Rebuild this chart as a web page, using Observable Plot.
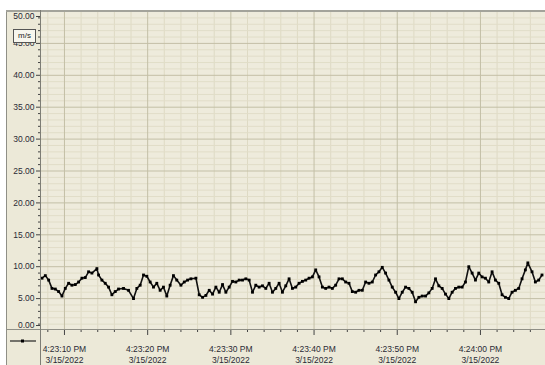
<!DOCTYPE html>
<html><head><meta charset="utf-8">
<script src="https://cdn.jsdelivr.net/npm/d3@7"></script>
<script src="https://cdn.jsdelivr.net/npm/@observablehq/plot@0.6"></script>
<style>
body{margin:0;background:#fff;}
#wrap{position:relative;width:545px;height:365px;overflow:hidden;background:#fff;font-family:"Liberation Sans",Arial,sans-serif;}
#chart{position:absolute;left:0;top:10px;}
.ln{position:absolute;background:#8f8f86;}
#unit{position:absolute;left:13px;top:29px;width:21px;height:12px;border:1px solid #555;background:#f7f6ee;font-size:8px;line-height:12px;text-align:center;color:#222;}
#leg{position:absolute;left:10px;top:332px;}
#white{position:absolute;left:0;top:0;width:6px;height:365px;background:#fff;}
</style></head><body>
<div id="wrap"><div id="chart"></div><div id="white"></div>
<div class="ln" style="left:6px;top:10px;width:1px;height:355px;"></div>
<div class="ln" style="left:6px;top:10px;width:539px;height:2px;background:#a3a39b;"></div>
<div class="ln" style="left:6px;top:329px;width:539px;height:1px;"></div>
<div class="ln" style="left:40px;top:10px;width:1px;height:355px;background:#7d7d75;"></div>
<div id="unit">m/s</div>
<div id="leg"><svg width="28" height="10"><line x1="0" y1="5" x2="26" y2="5" stroke="#222" stroke-width="1.2"/><rect x="11" y="3.5" width="3" height="3" fill="#000"/></svg></div>
</div>
<script>
// wind speed samples: seconds after 4:23:00 PM, 3/15/2022
const seconds = [7.3,7.7,8.1,8.5,8.9,9.3,9.7,10.1,10.5,10.9,
11.3,11.7,12.1,12.5,12.9,13.3,13.9,14.1,14.5,14.9,
15.3,15.7,16.1,16.5,17.1,17.7,18.3,18.7,19.1,19.5,
19.9,20.3,20.7,21.1,21.5,21.9,22.3,22.7,23.1,23.5,
24.0,24.4,24.8,25.2,25.8,26.2,26.6,27.0,27.4,27.8,
28.2,28.6,29.0,29.4,29.8,30.2,30.6,31.0,31.4,31.8,
32.2,32.6,33.0,33.4,33.8,34.2,34.6,35.0,35.4,35.8,
36.2,36.6,37.0,37.4,37.8,38.2,38.6,39.0,39.4,39.8,
40.2,40.6,41.0,41.4,41.8,42.2,42.6,43.0,43.4,43.8,
44.2,44.6,45.0,45.4,45.8,46.2,46.6,47.0,47.4,47.8,
48.2,48.6,49.0,49.4,49.8,50.2,50.6,51.0,51.4,51.8,
52.2,52.6,53.0,53.4,53.8,54.2,54.6,55.0,55.4,55.8,
56.2,56.6,57.0,57.4,57.8,58.2,58.6,59.0,59.4,59.8,
60.2,60.6,61.0,61.4,61.8,62.2,62.6,63.0,63.4,63.8,
64.2,64.6,65.0,65.4,65.7,66.2,66.6,67.0,67.4];
const speed = [8.2,8.6,7.9,6.6,6.5,6.1,5.4,6.6,7.4,7.1,
7.2,7.6,8.2,8.3,9.2,9.0,9.7,8.7,7.9,7.4,
6.8,5.6,6.1,6.5,6.6,6.3,5.0,6.6,7.1,8.7,
8.5,7.6,6.8,7.4,6.3,6.8,5.4,7.1,8.6,7.9,
7.1,7.6,7.9,8.1,8.2,5.6,5.2,5.5,6.3,5.7,
6.8,6.0,7.2,6.0,6.8,7.7,7.6,7.9,7.9,8.1,
7.9,6.0,7.1,6.8,7.0,6.6,7.4,6.0,6.6,7.4,
6.0,7.0,8.1,6.6,6.8,7.4,7.7,7.9,8.2,8.4,
9.5,8.4,6.8,6.6,6.8,6.6,7.1,8.1,8.1,7.6,
7.4,6.1,6.0,6.3,6.3,7.6,7.4,7.6,8.7,9.2,
9.9,9.0,7.9,6.8,6.0,5.0,6.0,6.8,6.6,6.0,
4.5,5.2,5.4,5.4,5.9,6.6,8.1,7.0,6.6,5.7,
5.0,6.0,6.6,6.8,6.8,7.6,10.0,9.0,7.9,9.0,
8.4,8.2,7.6,9.2,7.9,7.4,5.6,5.2,5.0,6.0,
6.3,6.6,8.1,9.5,10.6,9.2,7.6,7.9,8.7];
const yTicks = [5,10,15,20,25,30,35,40,45];
const yEndTicks = [0,50];
const xTickSeconds = [10,20,30,40,50,60];
const xViewSeconds = [7.12,67.82];
const dateLabel = "3/15/2022";

const base = new Date(2022,2,15,16,23,0);
const toDate = s => new Date(base.getTime() + s*1000);
const data = seconds.map((s,i)=>({time: toDate(s), speed: speed[i]}));
const xMajor = xTickSeconds.map(toDate);
const xMinor = d3.range(8, 68, 2).filter(s => s % 10 !== 0).map(toDate);
const yMinor = d3.range(1, 50, 1).filter(v => v % 5 !== 0);
const fmt = d3.timeFormat("%-I:%M:%S %p");

const chart = Plot.plot({
  width: 545, height: 355,
  marginLeft: 40, marginRight: 0, marginTop: 1, marginBottom: 35,
  style: {background: "#ECE9D8", fontFamily: "Liberation Sans, Arial, sans-serif", fontSize: "8.5px", color: "#2a2a35", overflow: "hidden"},
  x: {type: "time", domain: xViewSeconds.map(toDate), label: null},
  y: {domain: [0, 50], label: null},
  marks: [
    Plot.frame({fill: "#EEEBDC", stroke: null}),
    Plot.ruleX(xMinor, {stroke: "#DEDAC4"}),
    Plot.ruleY(yMinor, {stroke: "#E1DDC8"}),
    Plot.gridX(xMajor, {stroke: "#C3BFA6", strokeOpacity: 1}),
    Plot.gridY(yTicks, {stroke: "#C3BFA6", strokeOpacity: 1}),
    Plot.axisY(yMinor, {tickSize: 2, tickFormat: () => "", label: null, stroke: "#444"}),
    Plot.axisY(yTicks, {tickSize: 4, tickPadding: 2, tickFormat: d => d.toFixed(2), label: null, stroke: "#444"}),
    Plot.axisY([yEndTicks[0]], {tickSize: 4, tickPadding: 2, tickFormat: d => d.toFixed(2), label: null, dy: -5, stroke: "#444"}),
    Plot.axisY([yEndTicks[1]], {tickSize: 4, tickPadding: 2, tickFormat: d => d.toFixed(2), label: null, dy: 5, stroke: "#444"}),
    Plot.axisX(xMinor, {tickSize: 2, tickFormat: () => "", label: null, stroke: "#444"}),
    Plot.axisX(xMajor, {tickSize: 5, tickPadding: 8, tickFormat: d => fmt(d) + "\n" + dateLabel, lineHeight: 1.35, label: null, stroke: "#444"}),
    Plot.line(data, {x: "time", y: "speed", stroke: "#111", strokeWidth: 1.6}),
    Plot.dot(data, {x: "time", y: "speed", symbol: "square", r: 1.6, fill: "#000", stroke: null})
  ]
});
document.getElementById("chart").appendChild(chart);
</script>
</body></html>
